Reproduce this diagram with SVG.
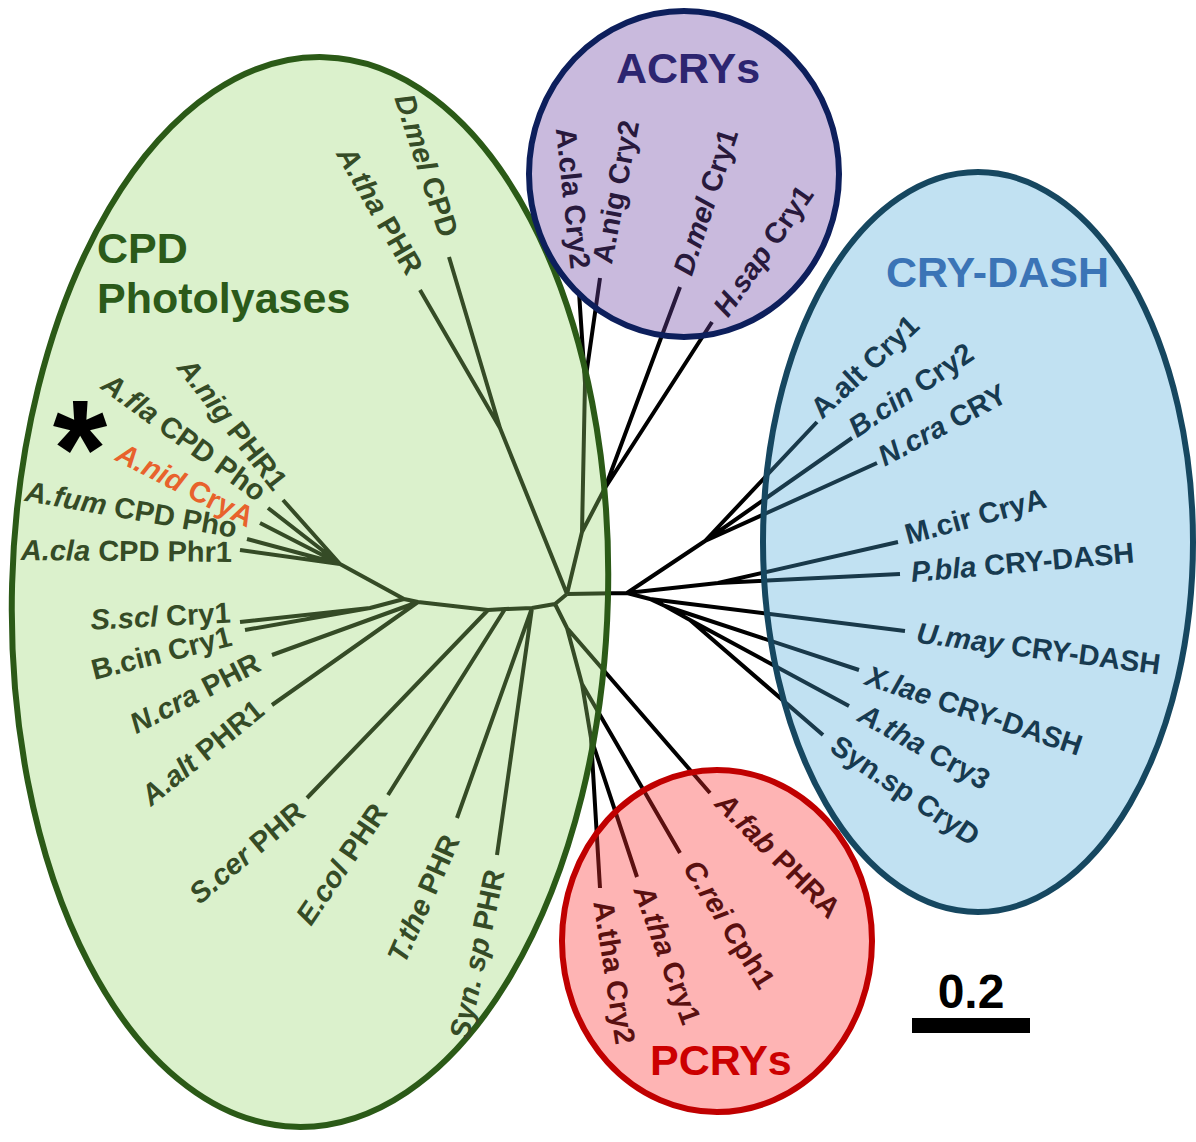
<svg xmlns="http://www.w3.org/2000/svg" width="1196" height="1142" viewBox="0 0 1196 1142">
<style>
.br{fill:none;stroke:#000;stroke-width:4;stroke-linejoin:round;stroke-linecap:butt}
text{font-family:"Liberation Sans",Arial,sans-serif;font-weight:bold}
.lb{font-size:29px}
.it{font-style:italic}
.t{font-size:43px}
.cg{fill:#354b26}.cp{fill:#28193c}.cb{fill:#173a50}.cr{fill:#5a1010}
.ell{stroke-width:6}
</style>
<rect width="1196" height="1142" fill="#fff"/>
<g id="connectors">
<path class="br" d="M567,594 L500,428 M500,428 L449,257 M500,428 L420,290
M567,594 L582,532 L585,383 M585,383 L579,292 M585,383 L600,278
M582,532 L605,488 L680,287 M605,488 L712,322
M567,594 L627,593 L705,541 L817,422 M705,541 L852,438 M705,541 L877,463
M627,593 L718,583 L898,542 M718,583 L900,574
M627,593 L650,599 L905,631 M650,599 L665,606 L859,670 M665,606 L690,620 L849,706 M690,620 L823,735
M567,594 L555,604 L532,608 L505,609 L488,610 L418,602 L404,599 L340,564
M340,564 L283,500 M340,564 L268,508 M340,564 L260,523 M340,564 L247,539 M340,564 L240,550
M404,599 L370,608 L240,622 M370,608 L245,630
M418,602 L272,655 M418,602 L272,705
M488,610 L307,798 M505,609 L388,795 M532,608 L457,818 M532,608 L497,855
M555,604 L567,628 L710,793 M567,628 L582,684 L680,853 M582,684 L591,738 L637,877 M591,738 L600,888"/>
</g>
<g id="cpd">
<ellipse class="ell" cx="310" cy="592" rx="298" ry="535" transform="rotate(1.5 310 592)" fill="rgb(151,214,110)" fill-opacity="0.35" stroke="#2b5a17"/>
<text class="t" x="97" y="263" fill="#2b5a1a">CPD</text>
<text class="t" x="97" y="313" fill="#2b5a1a">Photolyases</text>
<text id="l-anig" class="lb cg" transform="translate(283,500) rotate(52)" x="-12" y="3" text-anchor="end"><tspan class="it">A.nig</tspan> PHR1</text>
<text id="l-afla" class="lb cg" transform="translate(268,508) rotate(36)" x="-12" y="2" text-anchor="end"><tspan class="it">A.fla</tspan> CPD Pho</text>
<text id="l-anid" class="lb" fill="#e8622c" transform="translate(260,523) rotate(27)" x="-9" y="10" text-anchor="end"><tspan class="it">A.nid</tspan> CryA</text>
<text id="l-afum" class="lb cg" transform="translate(247,539) rotate(10)" x="-12" y="1" text-anchor="end"><tspan class="it">A.fum</tspan> CPD Pho</text>
<text id="l-acla" class="lb cg" transform="translate(240,550) rotate(0.5)" x="-8" y="12" text-anchor="end"><tspan class="it">A.cla</tspan> CPD Phr1</text>
<text id="l-sscl" class="lb cg" transform="translate(240,622) rotate(-3)" x="-9" y="0" text-anchor="end"><tspan class="it">S.scl</tspan> Cry1</text>
<text id="l-bcin" class="lb cg" transform="translate(245,630) rotate(-14)" x="-15" y="12" text-anchor="end">B.cin Cry1</text>
<text id="l-ncra" class="lb cg" transform="translate(272,655) rotate(-27)" x="-15" y="9" text-anchor="end"><tspan class="it">N.cra</tspan> PHR</text>
<text id="l-aalt" class="lb cg" transform="translate(272,705) rotate(-39)" x="-10" y="3" text-anchor="end"><tspan class="it">A.alt</tspan> PHR1</text>
<text id="l-scer" class="lb cg" transform="translate(307,798) rotate(-40)" x="-11" y="13" text-anchor="end"><tspan class="it">S.cer</tspan> PHR</text>
<text id="l-ecol" class="lb cg" transform="translate(388,795) rotate(-56)" x="-14" y="10" text-anchor="end"><tspan class="it">E.col</tspan> PHR</text>
<text id="l-tthe" class="lb cg" transform="translate(457,818) rotate(-66)" x="-19" y="12" text-anchor="end"><tspan class="it">T.the</tspan> PHR</text>
<text id="l-synp" class="lb cg" transform="translate(497,855) rotate(-78)" x="-15" y="11" text-anchor="end"><tspan class="it">Syn. sp</tspan> PHR</text>
<text id="l-atha" class="lb cg" transform="translate(420,290) rotate(60)" x="-18" y="5" text-anchor="end"><tspan class="it">A.tha</tspan> PHR</text>
<text id="l-dmel" class="lb cg" transform="translate(449,257) rotate(72)" x="-20" y="3" text-anchor="end"><tspan class="it">D.mel</tspan> CPD</text>
<text id="star" x="80" y="497" font-size="140" text-anchor="middle" fill="#000">*</text>
</g>
<g id="acry">
<ellipse class="ell" cx="684" cy="174" rx="155" ry="163" fill="rgb(108,68,162)" fill-opacity="0.37" stroke="#0d1f5c"/>
<text class="t" x="688" y="83" text-anchor="middle" fill="#2d2570">ACRYs</text>
<text id="l-acla2" class="lb cp" transform="translate(579,292) rotate(84)" x="-23" y="6" text-anchor="end">A.cla Cry2</text>
<text id="l-anig2" class="lb cp" transform="translate(600,278) rotate(-79)" x="15" y="9">A.nig Cry2</text>
<text id="l-dmel1" class="lb cp" transform="translate(680,287) rotate(-72)" x="13" y="8"><tspan class="it">D.mel</tspan> Cry1</text>
<text id="l-hsap" class="lb cp" transform="translate(712,322) rotate(-55)" x="12" y="11"><tspan class="it">H.sap</tspan> Cry1</text>
</g>
<g id="crydash">
<ellipse class="ell" cx="978" cy="542" rx="215" ry="370" fill="rgb(73,167,217)" fill-opacity="0.34" stroke="#164760"/>
<text class="t" x="886" y="287" fill="#3b74b6">CRY-DASH</text>
<text id="l-aalt1" class="lb cb" transform="translate(817,422) rotate(-43)" x="5" y="2">A.alt Cry1</text>
<text id="l-bcin2" class="lb cb" transform="translate(852,438) rotate(-34)" x="4" y="3"><tspan class="it">B.cin</tspan> Cry2</text>
<text id="l-ncry" class="lb cb" transform="translate(877,463) rotate(-28)" x="5" y="7"><tspan class="it">N.cra</tspan> CRY</text>
<text id="l-mcir" class="lb cb" transform="translate(898,542) rotate(-15)" x="9" y="5">M.cir CryA</text>
<text id="l-pbla" class="lb cb" transform="translate(900,574) rotate(-5)" x="11" y="9"><tspan class="it">P.bla</tspan> CRY-DASH</text>
<text id="l-umay" class="lb cb" transform="translate(905,631) rotate(7.5)" x="12" y="10"><tspan class="it">U.may</tspan> CRY-DASH</text>
<text id="l-xlae" class="lb cb" transform="translate(859,670) rotate(18.5)" x="9" y="12"><tspan class="it">X.lae</tspan> CRY-DASH</text>
<text id="l-atha3" class="lb cb" transform="translate(849,706) rotate(29)" x="13" y="9"><tspan class="it">A.tha</tspan> Cry3</text>
<text id="l-synd" class="lb cb" transform="translate(823,735) rotate(34)" x="13" y="10">Syn.sp CryD</text>
</g>
<g id="pcry">
<ellipse class="ell" cx="717" cy="941" rx="155" ry="171" fill="rgb(253,45,45)" fill-opacity="0.355" stroke="#c00000"/>
<text class="t" x="650" y="1075" fill="#cc0000">PCRYs</text>
<text id="l-afab" class="lb cr" transform="translate(710,793) rotate(45)" x="11" y="6"><tspan class="it">A.fab</tspan> PHRA</text>
<text id="l-crei" class="lb cr" transform="translate(680,853) rotate(58)" x="14" y="6"><tspan class="it">C.rei</tspan> Cph1</text>
<text id="l-atha1" class="lb cr" transform="translate(637,877) rotate(70)" x="11" y="8"><tspan class="it">A.tha</tspan> Cry1</text>
<text id="l-atha2" class="lb cr" transform="translate(600,888) rotate(81)" x="13" y="9">A.tha Cry2</text>
</g>
<g id="scale">
<text x="971" y="1008" font-size="48" text-anchor="middle" fill="#000">0.2</text>
<rect x="912" y="1018" width="118" height="15" fill="#000"/>
</g>
</svg>
